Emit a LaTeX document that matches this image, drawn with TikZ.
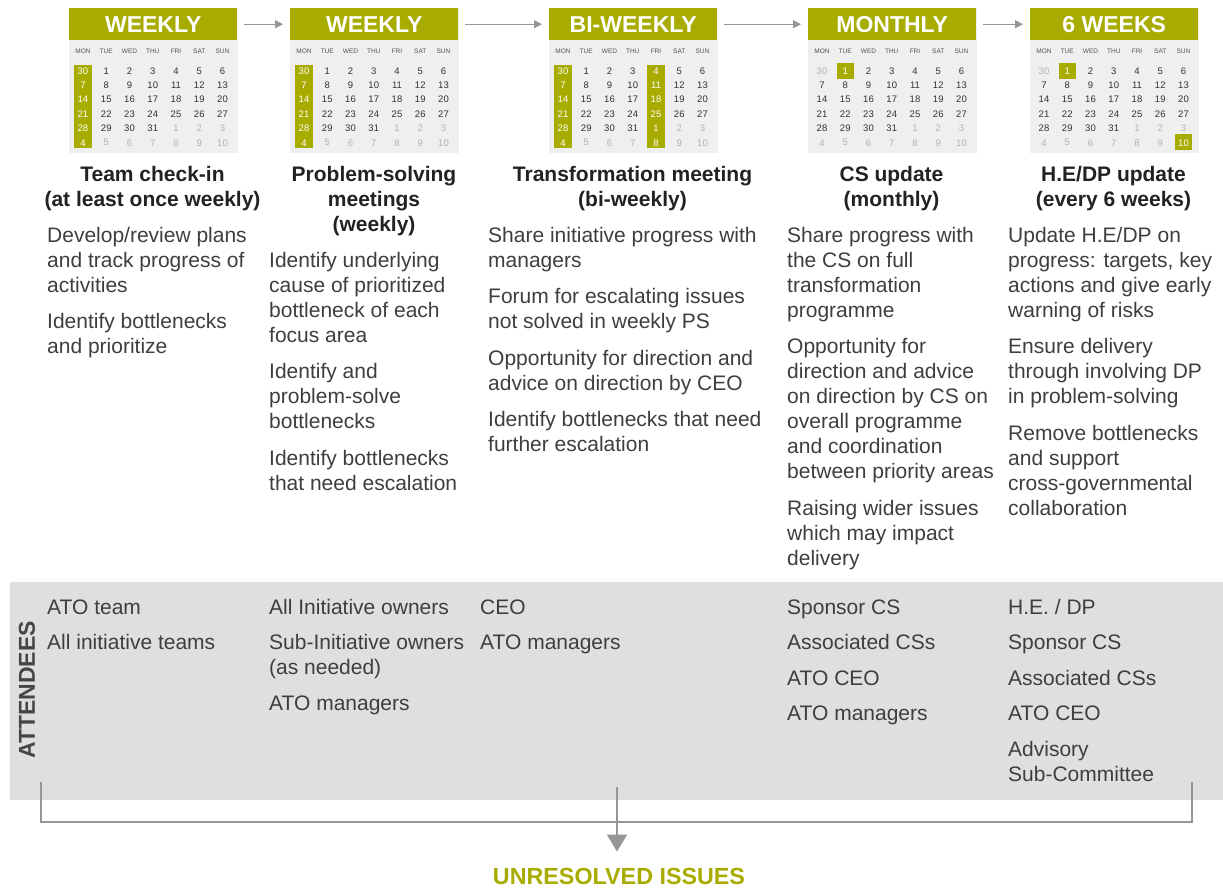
\documentclass[tikz,border=0pt]{standalone}
\usepackage{fontspec}
\setmainfont{Liberation Sans}
\usetikzlibrary{arrows.meta}
\definecolor{olive}{RGB}{168,172,0}
\definecolor{calgray}{RGB}{239,239,239}
\definecolor{band}{RGB}{222,223,225}
\definecolor{txt}{RGB}{62,62,62}
\definecolor{ttlc}{RGB}{34,34,34}
\definecolor{dimc}{RGB}{178,178,178}
\definecolor{numc}{RGB}{50,50,50}
\definecolor{dayc}{RGB}{80,80,80}
\definecolor{lin}{RGB}{150,150,150}
\definecolor{attc}{RGB}{70,70,70}

\newcommand\tl[1]{\begin{tabular}[t]{@{}l@{}}#1\end{tabular}}
\newcommand\tc[1]{\begin{tabular}[t]{@{}c@{}}#1\end{tabular}}

\makeatletter
\newcommand\sethl[3]{\expandafter\gdef\csname hl@#1@#2@#3\endcsname{}}
\newcommand\drawcal[5]{% id, left x, title, type, highlight code
  \node[calbody] (#1b) at (#2,8) {};
  \node[calhead] (#1h) at (#2,8) {#3};
  \foreach \cc/\dn in {1/MON,2/TUE,3/WED,4/THU,5/FRI,6/SAT,7/SUN}{
    \node[dayname] (#1-d\cc) at ({#2+14+23.25*(\cc-1)},51) {\dn};
  }
  #5
  \foreach \rr in {1,...,6}{
    \foreach \cc in {1,...,7}{
      \pgfmathtruncatemacro\dnum{7*(\rr-1)+\cc-1}
      \ifnum\dnum=0 \def\dnum{30}\fi
      \ifnum\dnum>31 \pgfmathtruncatemacro\dnum{\dnum-31}\fi
      \ifnum#4=0
        \pgfmathtruncatemacro\dm{((\rr==5) && (\cc>=5)) || ((\rr==6) && (\cc>=2))}
      \else
        \pgfmathtruncatemacro\dm{((\rr==1) && (\cc==1)) || ((\rr==5) && (\cc>=5)) || (\rr==6)}
      \fi
      \ifcsname hl@#1@\rr @\cc\endcsname \def\colr{white}\else
        \ifnum\dm=1 \def\colr{dimc}\else\def\colr{numc}\fi\fi
      \node[num, text=\colr] (#1-\rr-\cc) at ({#2+14+23.25*(\cc-1)},{71+14.35*(\rr-1)}) {\dnum};
    }
  }
}
\makeatother

\foreach \r in {1,...,6}{\sethl{c1}{\r}{1}\sethl{c2}{\r}{1}\sethl{c3}{\r}{1}\sethl{c3}{\r}{5}}
\sethl{c4}{1}{2}
\sethl{c5}{1}{2}
\sethl{c5}{6}{7}

\begin{document}
\begin{tikzpicture}[x=1pt,y=-1pt,
  calbody/.style={fill=calgray, anchor=north west, inner sep=0, minimum width=169, minimum height=145},
  calhead/.style={fill=olive, anchor=north west, inner sep=0, minimum width=168, minimum height=32, text=white, font=\bfseries\fontsize{23}{23}\selectfont},
  dayname/.style={font=\fontsize{6.5}{7}\selectfont, text=dayc, inner sep=0},
  num/.style={font=\fontsize{9.5}{10}\selectfont, inner sep=0},
  hlbox/.style={fill=olive},
  conn/.style={draw=lin, line width=1.4, -{Triangle[length=8,width=8]}, shorten <=7, shorten >=7},
  bodytext/.style={font=\fontsize{21}{25}\selectfont, text=txt, anchor=base west, inner sep=0},
  ttl/.style={font=\bfseries\fontsize{21}{25}\selectfont, text=ttlc, anchor=base, inner sep=0},
  bracket/.style={draw=lin, line width=2},
]
\useasboundingbox (0,0) rectangle (1223,887);

% attendees band
\fill[band] (10,582) rectangle (1223,800);

% calendars
\drawcal{c1}{69}{WEEKLY}{0}{\fill[hlbox] (74,65) rectangle (92,148);}
\drawcal{c2}{290}{WEEKLY}{0}{\fill[hlbox] (295,65) rectangle (313,148);}
\drawcal{c3}{549}{BI-WEEKLY}{0}{\fill[hlbox] (554,65) rectangle (572,148);\fill[hlbox] (647,65) rectangle (665,148);}
\drawcal{c4}{808}{MONTHLY}{1}{\fill[hlbox] (836.75,63) rectangle (853.75,79);}
\drawcal{c5}{1030}{6 WEEKS}{1}{\fill[hlbox] (1058.75,63) rectangle (1075.75,79);\fill[hlbox] (1175,134) rectangle (1192,150);}

\draw[conn] (c1h.east) -- (c2h.west);
\draw[conn] (c2h.east) -- (c3h.west);
\draw[conn] (c3h.east) -- (c4h.west);
\draw[conn] (c4h.east) -- (c5h.west);

% titles
\node[ttl] (t1) at (152.5,181) {\tc{Team check-in\\(at least once weekly)}};
\node[ttl] (t2) at (374,181) {\tc{Problem-solving\\meetings\\(weekly)}};
\node[ttl] (t3) at (632.5,181) {\tc{Transformation meeting\\(bi-weekly)}};
\node[ttl] (t4) at (891.5,181) {\tc{CS update\\(monthly)}};
\node[ttl] (t5) at (1113.5,181) {\tc{H.E/DP update\\(every 6 weeks)}};

% descriptions
\node[bodytext] (b1) at (47,242) {\tl{Develop/review plans\\and track progress of\\activities\\[11.5pt]Identify bottlenecks\\and prioritize}};
\node[bodytext] (b2) at (269,267) {\tl{Identify underlying\\cause of prioritized\\bottleneck of each\\focus area\\[11.5pt]Identify and\\problem-solve\\bottlenecks\\[11.5pt]Identify bottlenecks\\that need escalation}};
\node[bodytext] (b3) at (488,242) {\tl{Share initiative progress with\\managers\\[11.5pt]Forum for escalating issues\\not solved in weekly PS\\[11.5pt]Opportunity for direction and\\advice on direction by CEO\\[11.5pt]Identify bottlenecks that need\\further escalation}};
\node[bodytext] (b4) at (787,242) {\tl{Share progress with\\the CS on full\\transformation\\programme\\[11.5pt]Opportunity for\\direction and advice\\on direction by CS on\\overall programme\\and coordination\\between priority areas\\[11.5pt]Raising wider issues\\which may impact\\delivery}};
\node[bodytext] (b5) at (1008,242) {\tl{Update H.E/DP on\\progress: targets, key\\actions and give early\\warning of risks\\[11.5pt]Ensure delivery\\through involving DP\\in problem-solving\\[11.5pt]Remove bottlenecks\\and support\\cross-governmental\\collaboration}};

% attendees
\node[rotate=90, font=\bfseries\fontsize{23}{23}\selectfont, text=attc, inner sep=0] (attl) at (27,690) {ATTENDEES};
\node[bodytext] (a1) at (47,614) {\tl{ATO team\\[10.5pt]All initiative teams}};
\node[bodytext] (a2) at (269,614) {\tl{All Initiative owners\\[10.5pt]Sub-Initiative owners\\(as needed)\\[10.5pt]ATO managers}};
\node[bodytext] (a3) at (480,614) {\tl{CEO\\[10.5pt]ATO managers}};
\node[bodytext] (a4) at (787,614) {\tl{Sponsor CS\\[10.5pt]Associated CSs\\[10.5pt]ATO CEO\\[10.5pt]ATO managers}};
\node[bodytext] (a5) at (1008,614) {\tl{H.E. / DP\\[10.5pt]Sponsor CS\\[10.5pt]Associated CSs\\[10.5pt]ATO CEO\\[10.5pt]Advisory\\Sub-Committee}};

% bracket and unresolved issues
\coordinate (brl) at (41,782);
\coordinate (brr) at (1192,782);
\coordinate (brb) at (41,822);
\draw[bracket] (brl) -- (brb) -- (brb -| brr) -- (brr);
\node[font=\bfseries\fontsize{23.3}{23.3}\selectfont, text=olive, inner sep=0, anchor=base] (unres) at (619,884) {UNRESOLVED ISSUES};
\coordinate (arrtop) at (617,787);
\draw[draw=lin, line width=2, -{Triangle[length=17,width=20]}, shorten >=16] (arrtop) -- (arrtop |- unres.north);
\end{tikzpicture}
\end{document}
